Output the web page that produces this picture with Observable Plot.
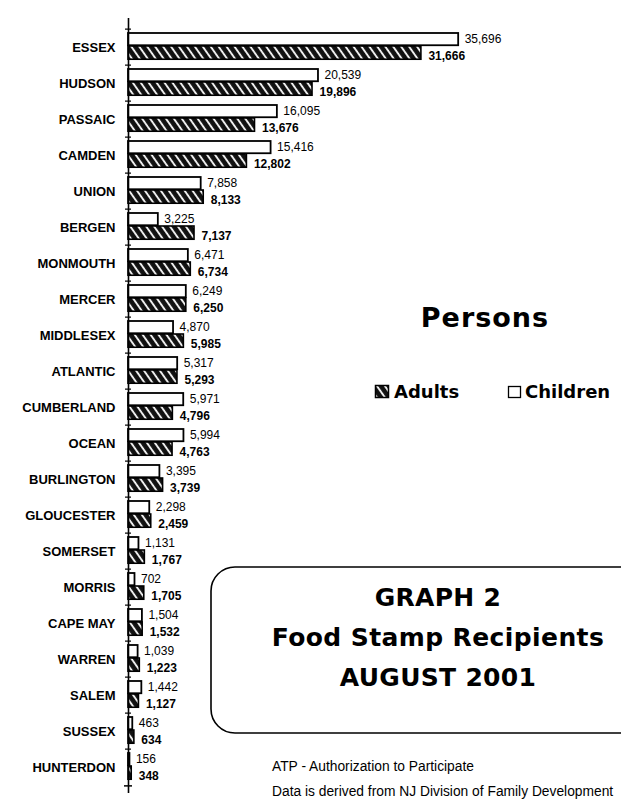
<!DOCTYPE html>
<html><head><meta charset="utf-8">
<script src="https://cdn.jsdelivr.net/npm/d3@7"></script>
<script src="https://cdn.jsdelivr.net/npm/@observablehq/plot@0.6"></script>
<style>
html,body{margin:0;padding:0;background:#fff;overflow:hidden;}
#chart{width:621px;height:804px;position:relative;}
</style></head><body><div id="chart"></div>
<script>
const counties = ["ESSEX","HUDSON","PASSAIC","CAMDEN","UNION","BERGEN","MONMOUTH","MERCER","MIDDLESEX","ATLANTIC","CUMBERLAND","OCEAN","BURLINGTON","GLOUCESTER","SOMERSET","MORRIS","CAPE MAY","WARREN","SALEM","SUSSEX","HUNTERDON"];
const children = [35696,20539,16095,15416,7858,3225,6471,6249,4870,5317,5971,5994,3395,2298,1131,702,1504,1039,1442,463,156];
const adults = [31666,19896,13676,12802,8133,7137,6734,6250,5985,5293,4796,4763,3739,2459,1767,1705,1532,1223,1127,634,348];
const seriesNames = ["Adults","Children"];
const heading = "Persons";
const titleLines = ["GRAPH 2","Food Stamp Recipients","AUGUST 2001"];
const notes = ["ATP - Authorization to Participate","Data is derived from NJ Division of Family Development"];

const rows = counties.map((c,i)=>({county:c, children:children[i], adults:adults[i]}));
const W = 621, H = 804, mT = 21, mB = 11;
const band = (H - mT - mB) / counties.length;
const fmt = d3.format(",");

const plot = Plot.plot({
  width: W, height: H, marginLeft: 128, marginRight: 0, marginTop: mT, marginBottom: mB,
  style: {fontFamily: "'Liberation Sans', Arial, sans-serif", color: "#000", background: "#fff"},
  x: {domain: [0, 53300], axis: null},
  y: {domain: counties, padding: 0},
  marks: [
    Plot.barX(rows, {y: "county", x: "children", fill: "#fff", stroke: "#000", strokeWidth: 1.8, insetTop: 4, insetBottom: band - 17}),
    Plot.barX(rows, {y: "county", x: "adults", fill: "url(#hatch)", stroke: "#000", strokeWidth: 1.6, insetTop: 17, insetBottom: band - 31}),
    Plot.text(rows, {y: "county", x: "children", text: d => fmt(d.children), textAnchor: "start", dx: 6, dy: -8, fontSize: 12, fill: "#000"}),
    Plot.text(rows, {y: "county", x: "adults", text: d => fmt(d.adults), textAnchor: "start", dx: 7, dy: 9, fontSize: 12, fontWeight: "bold", fill: "#000"}),
    Plot.ruleX([0], {stroke: "#000", strokeWidth: 1.6, insetTop: -3}),
    Plot.ruleY(rows, {y: "county", x1: 0, x2: 0, insetLeft: -3, insetRight: -3, dy: -band / 2, stroke: "#000", strokeWidth: 1.2}),
    Plot.ruleY(rows.slice(-1), {y: "county", x1: 0, x2: 0, insetLeft: -4, insetRight: -4, dy: band / 2, stroke: "#000", strokeWidth: 1.5}),
    Plot.axisY({tickSize: 0, tickPadding: 13, fontSize: 13, fontWeight: "bold", label: null, fill: "#000"})
  ]
});

const svg = d3.select(plot);
const defs = svg.insert("defs", ":first-child");
const pat = defs.append("pattern").attr("id", "hatch").attr("patternUnits", "userSpaceOnUse")
  .attr("width", 6.5).attr("height", 6.5).attr("patternTransform", "rotate(-35)");
pat.append("rect").attr("width", 6.5).attr("height", 6.5).attr("fill", "#111");
pat.append("rect").attr("x", 2).attr("width", 1.8).attr("height", 6.5).attr("fill", "#fff");

const g = svg.append("g").attr("font-family", "'DejaVu Sans', sans-serif").attr("font-weight", "bold")
  .attr("fill", "#000").attr("text-anchor", "start");
g.append("text").attr("x", 485).attr("y", 327).attr("text-anchor", "middle").attr("font-size", 27).attr("letter-spacing", 1).text(heading);
// legend
g.append("rect").attr("x", 375.5).attr("y", 385.5).attr("width", 13).attr("height", 12).attr("fill", "url(#hatch)").attr("stroke", "#000").attr("stroke-width", 1.5);
g.append("text").attr("x", 394).attr("y", 398).attr("font-size", 18).text(seriesNames[0]);
g.append("rect").attr("x", 508.5).attr("y", 386.5).attr("width", 12).attr("height", 11).attr("fill", "#fff").attr("stroke", "#000").attr("stroke-width", 1.3);
g.append("text").attr("x", 525).attr("y", 398).attr("font-size", 18).text(seriesNames[1]);
// title box
g.append("rect").attr("x", 211).attr("y", 567).attr("width", 460).attr("height", 166).attr("rx", 24)
  .attr("fill", "none").attr("stroke", "#000").attr("stroke-width", 1.6);
[606, 646, 686].forEach((yy, i) => {
  g.append("text").attr("x", 438).attr("y", yy).attr("text-anchor", "middle").attr("font-size", 25)
    .attr("letter-spacing", i === 1 ? 0.4 : 0.3).text(titleLines[i]);
});
const n = svg.append("g").attr("font-family", "'Liberation Sans', Arial, sans-serif").attr("font-size", 13.8)
  .attr("fill", "#000").attr("text-anchor", "start");
n.append("text").attr("x", 272).attr("y", 771).text(notes[0]);
n.append("text").attr("x", 272).attr("y", 796).text(notes[1]);

document.getElementById("chart").appendChild(plot);
</script>
</body></html>
